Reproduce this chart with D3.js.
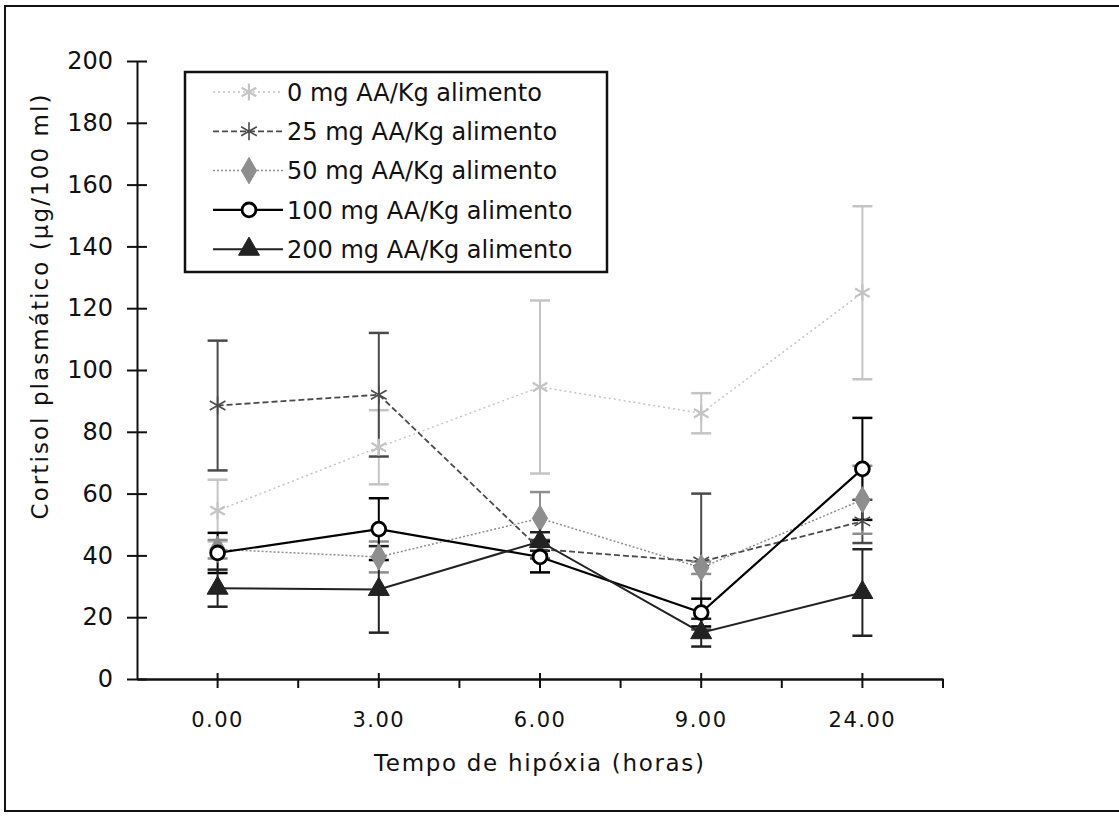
<!DOCTYPE html>
<html>
<head>
<meta charset="utf-8">
<script src="https://cdn.jsdelivr.net/npm/d3@7"></script>
<style>
  html, body { margin: 0; padding: 0; background: #fff; }
  svg { display: block; }
</style>
</head>
<body>
<svg id="chart" width="1119" height="816"></svg>
<script>
// ---------- data ----------
const categories = ["0.00", "3.00", "6.00", "9.00", "24.00"];
const yTicks = [0, 20, 40, 60, 80, 100, 120, 140, 160, 180, 200];
const seriesNames = [
  "0 mg AA/Kg alimento",
  "25 mg AA/Kg alimento",
  "50 mg AA/Kg alimento",
  "100 mg AA/Kg alimento",
  "200 mg AA/Kg alimento"
];
const mean0   = [54.5, 75, 94.5, 86, 125];
const err0    = [10, 12, 28, 6.5, 28];
const mean25  = [88.5, 92, 42, 38, 51];
const err25   = [21, 20, 3, 22, 7];
const mean50  = [42, 39.5, 52, 36, 58];
const err50   = [3, 5, 8.5, 2, 11];
const mean100 = [40.8, 48.5, 39.5, 21.5, 68];
const err100  = [6.5, 10, 5, 4.5, 16.5];
const mean200 = [29.4, 29, 44.5, 15, 28];
const err200  = [6, 14, 3, 4.5, 14];
const xTitle = "Tempo de hipóxia (horas)";
const yTitle = "Cortisol plasmático (µg/100 ml)";

// ---------- styles ----------
const styles = [
  { color: "#c4c4c4", dash: "2,3", width: 1.5, symbol: d3.symbolAsterisk, fill: false, size: 200, sw: 2.2 },
  { color: "#4a4a4a", dash: "6,3", width: 1.8, symbol: d3.symbolAsterisk, fill: false, size: 230, sw: 1.6 },
  { color: "#8e8e8e", dash: "2,2", width: 1.5, symbol: d3.symbolDiamond, fill: true, size: 200, sw: 1 },
  { color: "#000000", dash: null, width: 2.2, symbol: d3.symbolCircle, fill: false, size: 150, sw: 2.8 },
  { color: "#222222", dash: null, width: 2, symbol: d3.symbolTriangle, fill: true, size: 190, sw: 1 }
];
const means = [mean0, mean25, mean50, mean100, mean200];
const errs = [err0, err25, err50, err100, err200];
const series = seriesNames.map((name, i) => ({
  name, style: styles[i],
  values: categories.map((c, j) => ({ c, v: means[i][j], e: errs[i][j] }))
}));

const svg = d3.select("#chart");
const FONT = "'DejaVu Sans', sans-serif";

// frame
svg.append("path")
  .attr("d", "M1119,6 H5 V811 H1119")
  .attr("fill", "none").attr("stroke", "#111").attr("stroke-width", 2);

const x = d3.scaleBand().domain(categories).range([137, 943]);
const y = d3.scaleLinear().domain([0, 200]).range([679, 61]);
const cx = c => x(c) + x.bandwidth() / 2;

// y axis
const yAxis = svg.append("g").attr("transform", "translate(137,0)")
  .call(d3.axisLeft(y).tickValues(yTicks).tickSizeInner(10).tickSizeOuter(0).tickPadding(14));
yAxis.select(".domain").attr("stroke", "#111").attr("stroke-width", 2);
yAxis.selectAll(".tick line").attr("x1", -10).attr("x2", 10).attr("stroke", "#111").attr("stroke-width", 2);
yAxis.selectAll(".tick text").attr("font-family", FONT).attr("font-size", 24).attr("fill", "#111");

// x axis
const xAxis = svg.append("g").attr("transform", "translate(0,679)")
  .call(d3.axisBottom(x).tickSizeInner(9).tickSizeOuter(0));
xAxis.select(".domain").attr("stroke", "#111").attr("stroke-width", 2.5);
xAxis.selectAll(".tick line").attr("y1", -6).attr("y2", 9).attr("stroke", "#111").attr("stroke-width", 2);
xAxis.selectAll(".tick text").attr("font-family", FONT).attr("font-size", 21)
  .attr("letter-spacing", 1.5).attr("fill", "#111").attr("y", 48).attr("dy", 0);
const minor = categories.slice(1).map(c => x(c)).concat([x.range()[1]]);
xAxis.selectAll(".minor").data(minor).join("line").attr("class", "minor")
  .attr("x1", d => d).attr("x2", d => d).attr("y1", 0).attr("y2", 9)
  .attr("stroke", "#111").attr("stroke-width", 2);

// titles
svg.append("text").attr("x", 539).attr("y", 771).attr("text-anchor", "middle")
  .attr("font-family", FONT).attr("font-size", 23).attr("fill", "#111")
  .attr("textLength", 330).attr("lengthAdjust", "spacing").text(xTitle);
svg.append("text").attr("transform", "translate(48,307) rotate(-90)").attr("text-anchor", "middle")
  .attr("font-family", FONT).attr("font-size", 23).attr("fill", "#111")
  .attr("textLength", 425).attr("lengthAdjust", "spacing").text(yTitle);

// error bars
const capW = 10;
series.forEach(s => {
  const g = svg.append("g");
  s.values.forEach(d => {
    const px = cx(d.c);
    g.append("line").attr("x1", px).attr("x2", px).attr("y1", y(d.v + d.e)).attr("y2", y(d.v - d.e))
      .attr("stroke", s.style.color).attr("stroke-width", 2);
    [d.v + d.e, d.v - d.e].forEach(val => {
      g.append("line").attr("x1", px - capW).attr("x2", px + capW).attr("y1", y(val)).attr("y2", y(val))
        .attr("stroke", s.style.color).attr("stroke-width", 2.5);
    });
  });
});

// lines
const line = d3.line().x(d => cx(d.c)).y(d => y(d.v));
series.forEach(s => {
  svg.append("path").datum(s.values).attr("d", line).attr("fill", "none")
    .attr("stroke", s.style.color).attr("stroke-width", s.style.width)
    .attr("stroke-dasharray", s.style.dash);
});

// markers
function marker(g, st, tx, ty) {
  g.append("path").attr("transform", `translate(${tx},${ty})`)
    .attr("d", d3.symbol().type(st.symbol).size(st.size)())
    .attr("fill", st.fill ? st.color : (st.symbol === d3.symbolCircle ? "#fff" : "none"))
    .attr("stroke", st.color).attr("stroke-width", st.sw);
}
series.forEach(s => {
  const g = svg.append("g");
  s.values.forEach(d => marker(g, s.style, cx(d.c), y(d.v)));
});

// legend
const lg = svg.append("g");
lg.append("rect").attr("x", 185).attr("y", 72).attr("width", 422).attr("height", 200)
  .attr("fill", "#fff").attr("stroke", "#111").attr("stroke-width", 2.5);
series.forEach((s, i) => {
  const ly = 92 + i * 39.3;
  lg.append("line").attr("x1", 213).attr("x2", 283).attr("y1", ly).attr("y2", ly)
    .attr("stroke", s.style.color).attr("stroke-width", s.style.width)
    .attr("stroke-dasharray", s.style.dash);
  marker(lg, s.style, 249, ly);
  lg.append("text").attr("x", 287).attr("y", ly).attr("dy", "0.36em")
    .attr("font-family", FONT).attr("font-size", 24).attr("fill", "#111").text(s.name);
});
</script>
</body>
</html>
